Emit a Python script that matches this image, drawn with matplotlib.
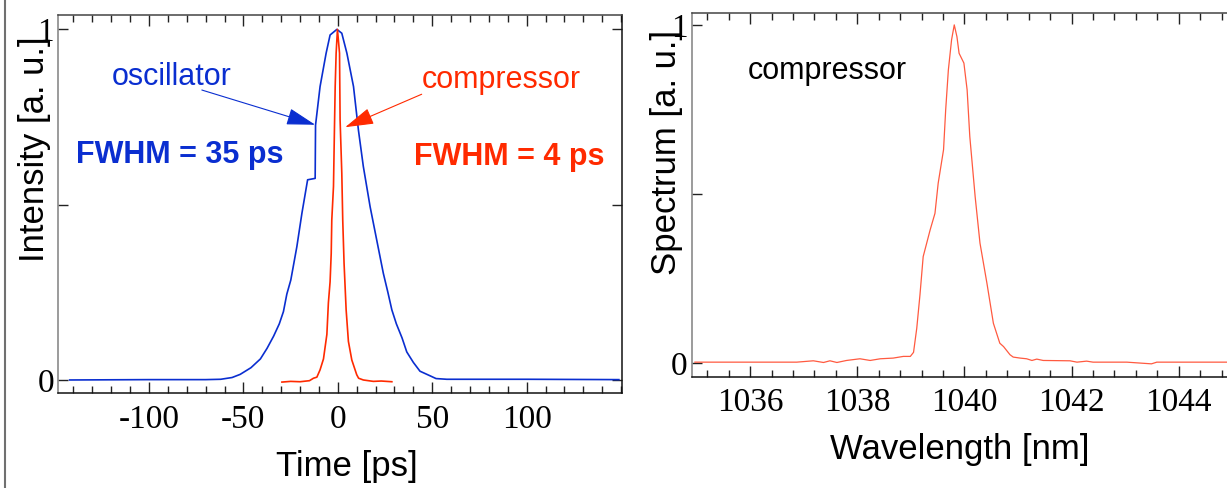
import matplotlib
matplotlib.use("Agg")
import matplotlib.pyplot as plt
from matplotlib.ticker import MultipleLocator, FixedLocator, FixedFormatter
from matplotlib.lines import Line2D

# ---------------- data ----------------
# oscillator pulse (time in ps, normalized intensity)
osc_t = [-142, -100, -70, -62, -56, -51.7, -46, -41, -37.5, -34, -31, -28.8, -27,
         -24.9, -21.7, -19, -16, -12.0, -11.8, -9.4, -6.2, -4.1, -0.5, 2.1, 4.8,
         8.3, 10.9, 13.5, 17.1, 20.6, 24.1, 26.5, 28.6, 31, 34, 36.5, 40, 43.5,
         48.8, 52, 57.7, 100, 148.8]
osc_y = [0.0, 0.001, 0.001, 0.002, 0.007, 0.016, 0.035, 0.06, 0.09, 0.125, 0.16,
         0.195, 0.245, 0.285, 0.380, 0.476, 0.571, 0.575, 0.727, 0.837, 0.932,
         0.984, 1.0, 0.989, 0.932, 0.837, 0.713, 0.609, 0.494, 0.399, 0.304,
         0.25, 0.20, 0.16, 0.12, 0.08, 0.05, 0.025, 0.012, 0.004, 0.002, 0.002,
         0.001]

# compressed pulse
comp_t = [-29.6, -25, -20, -15, -12.9, -11.1, -9.4, -7.6, -5.8, -5.0, -4.1, -3.5,
          -3.2, -2.3, -1.8, -1.4, -0.9, -0.2, 0.9, 1.2, 2.1, 2.6, 3.3, 4.4, 5.6,
          7.4, 10.0, 11.0, 13.5, 18.8, 23, 28.6]
comp_y = [-0.006, -0.004, -0.005, -0.002, 0.005, 0.008, 0.029, 0.06, 0.13, 0.22,
          0.28, 0.361, 0.456, 0.552, 0.713, 0.837, 0.932, 1.0, 0.932, 0.742,
          0.590, 0.456, 0.333, 0.20, 0.11, 0.057, 0.015, 0.005, 0.0, -0.004,
          -0.003, -0.005]

# spectrum after compressor (wavelength in nm)
spec_wl = [1034.97, 1036.87, 1037.18, 1037.37, 1037.49, 1037.62, 1037.80, 1038.05,
           1038.24, 1038.43, 1038.67, 1038.86, 1038.99, 1039.05, 1039.11, 1039.17,
           1039.23, 1039.36, 1039.45, 1039.51, 1039.61, 1039.65, 1039.70, 1039.76,
           1039.81, 1039.86, 1039.90, 1039.99, 1040.05, 1040.10, 1040.20, 1040.29,
           1040.42, 1040.54, 1040.66, 1040.73, 1040.85, 1040.91, 1041.04, 1041.16,
           1041.26, 1041.35, 1041.47, 1041.97, 1042.10, 1042.28, 1042.40, 1043.03,
           1043.49, 1043.59, 1044.89]
spec_y = [0.003, 0.003, 0.007, 0.002, 0.007, 0.002, 0.008, 0.013, 0.008, 0.013,
          0.015, 0.020, 0.020, 0.032, 0.103, 0.202, 0.315, 0.394, 0.443, 0.532,
          0.631, 0.749, 0.867, 0.956, 1.0, 0.965, 0.916, 0.887, 0.808, 0.670,
          0.492, 0.355, 0.236, 0.118, 0.059, 0.049, 0.025, 0.018, 0.015, 0.013,
          0.008, 0.012, 0.008, 0.007, 0.003, 0.006, 0.003, 0.003, -0.002, 0.003,
          0.003]

time_ticks = [-100, -50, 0, 50, 100]
wl_ticks = [1036, 1038, 1040, 1042, 1044]
y_ticks = [0, 0.5, 1]
y_ticklabels = ["0", "", "1"]

BLUE = "#0a2ed0"
RED = "#ff2a00"
SPEC = "#ff5a40"

SANS = "Liberation Sans"
SERIF = "Liberation Serif"

fig = plt.figure(figsize=(12.27, 4.88), dpi=100)

def style_axes(ax, xmajor, xminor):
    ax.xaxis.set_major_locator(MultipleLocator(xmajor))
    ax.xaxis.set_minor_locator(MultipleLocator(xminor))
    ax.yaxis.set_major_locator(FixedLocator(y_ticks))
    ax.yaxis.set_major_formatter(FixedFormatter(y_ticklabels))
    ax.tick_params(axis="x", which="both", direction="in", top=True, bottom=True,
                   colors="#222222", width=1.0)
    ax.tick_params(axis="x", which="major", length=8, pad=8,
                   labelsize=24, labelcolor="black")
    ax.tick_params(axis="x", which="minor", length=5)
    ax.tick_params(axis="y", which="major", direction="in", left=True, right=True,
                   length=7, width=1.0, pad=3, labelsize=24, colors="#222222",
                   labelcolor="black")
    for lab in ax.get_xticklabels() + ax.get_yticklabels():
        lab.set_fontfamily(SERIF)
    ax.spines["left"].set_color("#808080")
    ax.spines["top"].set_color("#444444")
    ax.spines["bottom"].set_color("#111111")
    ax.spines["right"].set_color("#111111")
    for s in ax.spines.values():
        s.set_linewidth(1.1)

# ---------------- left panel ----------------
ax1 = fig.add_axes([58.3 / 1227, (488 - 393.3) / 488, (621.7 - 58.3) / 1227, (393.3 - 15) / 488])
ax1.plot(osc_t, osc_y, color=BLUE, lw=1.2)
ax1.plot(comp_t, comp_y, color=RED, lw=1.2)
ax1.set_xlim(-148, 150.3)
ax1.set_ylim(-0.038, 1.041)
style_axes(ax1, 50, 10)
ax1.set_xticks(time_ticks)
ax1.set_xticklabels([str(v) for v in time_ticks], fontfamily=SERIF, fontsize=24)
ax1.set_xlabel("Time [ps]", fontsize=25, fontfamily=SANS)
ax1.set_ylabel("Intensity [a. u.]", fontsize=25, fontfamily=SANS)
ax1.xaxis.set_label_coords(0.512, -0.15)
ax1.yaxis.set_label_coords(-0.013, 0.645)

ax1.text(-88.2, 0.842, "oscillator", color=BLUE, fontsize=22, fontfamily=SANS,
         ha="center", va="baseline")
ax1.text(-83.6, 0.618, "FWHM = 35 ps", color=BLUE, fontsize=22, fontfamily=SANS,
         fontweight="bold", ha="center", va="baseline")
ax1.text(86.8, 0.832, "compressor", color=RED, fontsize=22, fontfamily=SANS,
         ha="center", va="baseline")
ax1.text(90.7, 0.613, "FWHM = 4 ps", color=RED, fontsize=22, fontfamily=SANS,
         fontweight="bold", ha="center", va="baseline")
ax1.annotate("", xy=(-12.0, 0.728), xytext=(-72, 0.827),
             arrowprops=dict(arrowstyle="-|>,head_length=1.2,head_width=0.35",
                             mutation_scale=15, lw=0.8, color=BLUE,
                             shrinkA=0, shrinkB=0))
ax1.annotate("", xy=(3.9, 0.721), xytext=(44.4, 0.815),
             arrowprops=dict(arrowstyle="-|>,head_length=1.2,head_width=0.35",
                             mutation_scale=15, lw=0.8, color=RED,
                             shrinkA=0, shrinkB=0))

# ---------------- right panel ----------------
ax2 = fig.add_axes([691.7 / 1227, (488 - 376.7) / 488, (1227 - 691.7) / 1227, (376.7 - 12.7) / 488])
ax2.plot(spec_wl, spec_y, color=SPEC, lw=0.9)
ax2.set_xlim(1034.91, 1044.9)
ax2.set_ylim(-0.040, 1.036)
style_axes(ax2, 2, 0.4)
ax2.spines["right"].set_visible(False)
ax2.tick_params(axis="y", right=False)
ax2.set_xticks(wl_ticks)
ax2.set_xticklabels([str(v) for v in wl_ticks], fontfamily=SERIF, fontsize=24)
ax2.set_xlabel("Wavelength [nm]", fontsize=25, fontfamily=SANS)
ax2.set_ylabel("Spectrum [a. u.]", fontsize=25, fontfamily=SANS)
ax2.xaxis.set_label_coords(0.5, -0.155)
ax2.yaxis.set_label_coords(-0.016, 0.616)
ax2.text(1037.44, 0.840, "compressor", color="black", fontsize=22,
         fontfamily=SANS, ha="center", va="baseline")

# slide border line on the far left
fig.add_artist(Line2D([4.5 / 1227, 4.5 / 1227], [0, 1], transform=fig.transFigure,
                      color="#707070", lw=1.5))

fig.savefig("out.png", dpi=100)
